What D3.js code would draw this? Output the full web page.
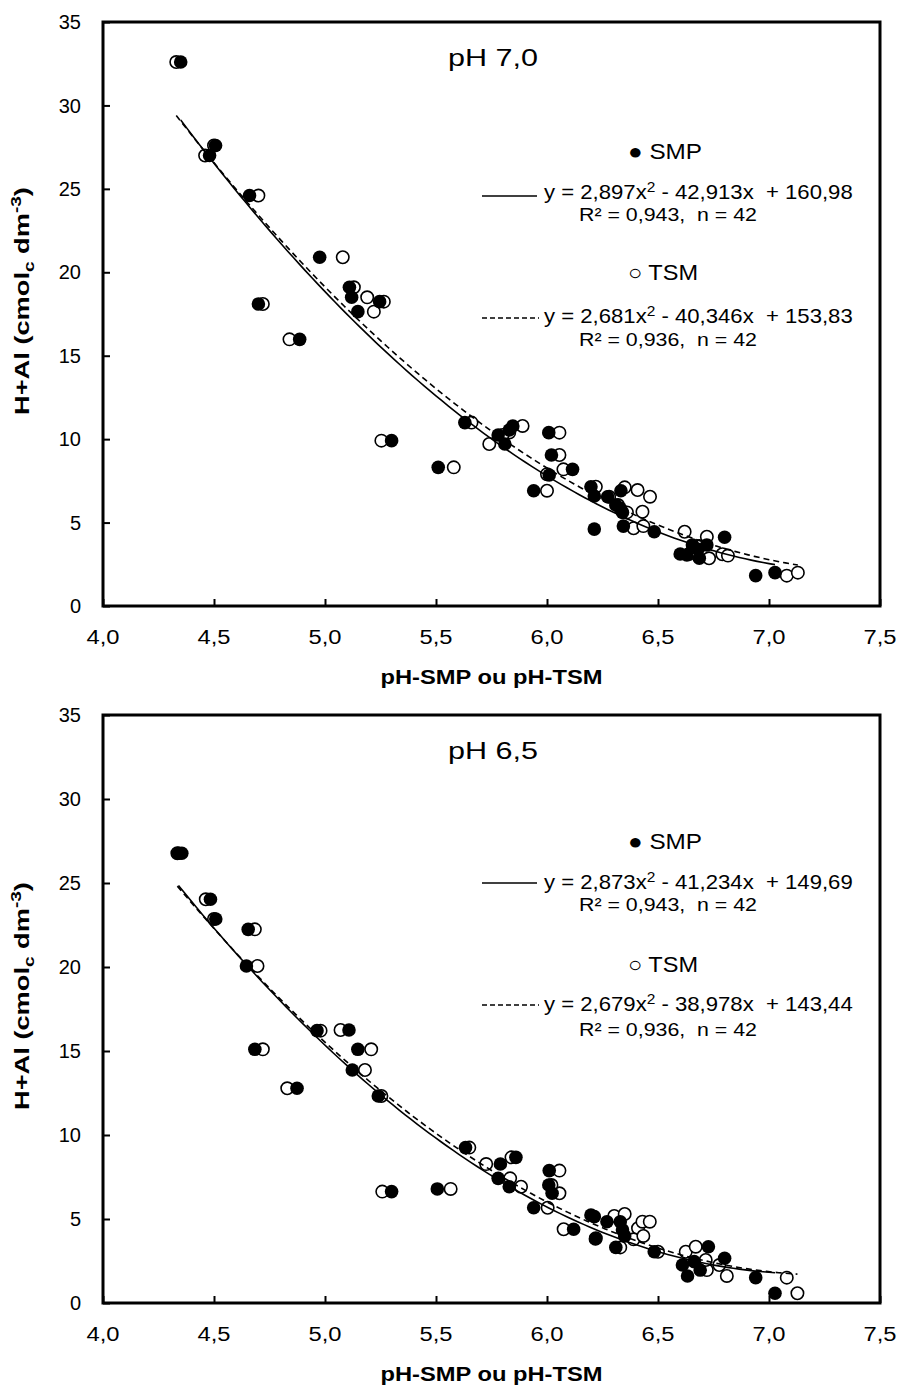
<!DOCTYPE html>
<html><head><meta charset="utf-8">
<script src="https://cdn.jsdelivr.net/npm/d3@7"></script>
<style>
body{margin:0;background:#fff}
svg{display:block}
text{font-family:"Liberation Sans",Arial,sans-serif;fill:#000}
</style>
</head><body>
<svg id="c" width="903" height="1396"></svg>
<script>
// ---------- DATA ----------
const xTicks = [4.0, 4.5, 5.0, 5.5, 6.0, 6.5, 7.0, 7.5];
const xTickLabels = ["4,0", "4,5", "5,0", "5,5", "6,0", "6,5", "7,0", "7,5"];
const yTicks = [0, 5, 10, 15, 20, 25, 30, 35];
const yTickLabels = ["0", "5", "10", "15", "20", "25", "30", "35"];
const xTitle = "pH-SMP ou pH-TSM";
const chartTitles = ["pH 7,0", "pH 6,5"];

// pH 7,0 — SMP (filled) and TSM (open): [pH, H+Al]
const smp70 = [[4.35,32.6],[4.507,27.6],[4.48,27.0],[4.66,24.6],[4.976,20.9],[4.70,18.1],[5.11,19.1],[5.12,18.5],[5.148,17.64],[5.246,18.24],[4.886,15.98],[5.63,10.99],[5.30,9.91],[5.51,8.31],[5.846,10.79],[5.83,10.55],[5.78,10.25],[5.81,9.71],[6.008,10.39],[6.02,9.05],[6.115,8.19],[6.01,7.85],[5.94,6.91],[6.198,7.15],[6.213,6.59],[6.273,6.55],[6.333,6.91],[6.31,6.05],[6.33,5.85],[6.34,5.61],[6.213,4.61],[6.344,4.79],[6.483,4.45],[6.80,4.12],[6.655,3.66],[6.72,3.66],[6.68,3.4],[6.60,3.12],[6.63,3.06],[6.686,2.86],[6.94,1.82],[7.027,2.0]];
const tsm70 = [[4.33,32.6],[4.46,27.0],[4.50,27.6],[4.70,24.6],[5.08,20.9],[4.72,18.1],[5.13,19.1],[5.19,18.5],[5.265,18.24],[5.22,17.64],[4.84,15.98],[5.66,10.99],[5.254,9.91],[5.58,8.31],[5.74,9.71],[5.83,10.4],[5.89,10.79],[6.056,10.39],[6.056,9.05],[6.074,8.19],[6.00,7.9],[6.00,6.91],[6.22,7.15],[6.35,7.11],[6.408,6.95],[6.464,6.55],[6.28,6.55],[6.32,6.05],[6.43,5.65],[6.36,5.61],[6.39,4.66],[6.434,4.79],[6.62,4.45],[6.72,4.15],[6.686,3.6],[6.64,3.12],[6.79,3.1],[6.815,3.02],[6.73,2.86],[7.08,1.82],[7.13,2.0],[5.80,10.25]];

// pH 6,5
const smp65 = [[4.34,26.77],[4.355,26.77],[4.484,24.03],[4.508,22.86],[4.654,22.24],[4.646,20.06],[4.684,15.1],[4.874,12.78],[4.964,16.21],[5.108,16.25],[5.148,15.1],[5.123,13.87],[5.24,12.32],[5.30,6.63],[5.506,6.79],[5.633,9.25],[5.79,8.27],[5.86,8.67],[5.78,7.42],[5.83,6.92],[6.01,7.88],[6.008,7.02],[6.023,6.53],[5.94,5.67],[6.12,4.39],[6.198,5.24],[6.213,5.14],[6.218,3.81],[6.27,4.84],[6.33,4.84],[6.34,4.35],[6.35,3.99],[6.31,3.31],[6.483,3.05],[6.727,3.35],[6.80,2.66],[6.61,2.26],[6.663,2.46],[6.69,1.96],[6.633,1.61],[6.94,1.51],[7.027,0.58]];
const tsm65 = [[4.335,26.77],[4.463,24.03],[4.50,22.86],[4.684,22.24],[4.696,20.06],[4.72,15.1],[4.83,12.78],[5.07,16.25],[5.208,15.1],[5.18,13.87],[5.254,12.32],[5.258,6.63],[5.566,6.79],[5.65,9.25],[5.726,8.27],[5.84,8.67],[5.834,7.42],[5.883,6.92],[6.056,7.88],[6.056,6.53],[6.003,5.67],[6.075,4.39],[6.303,5.18],[6.35,5.3],[6.41,4.45],[6.43,4.84],[6.463,4.84],[6.39,3.79],[6.434,3.99],[6.625,3.05],[6.67,3.35],[6.72,1.96],[6.715,2.56],[6.776,2.26],[6.81,1.61],[7.08,1.51],[7.128,0.58],[6.02,7.02],[6.33,3.31],[4.98,16.21],[6.50,3.05],[6.22,3.85]];

// quadratic fit coefficients [a, b, c]  (y = a x² + b x + c)
const fitSmp70 = [2.897, -42.913, 160.98];
const fitTsm70 = [2.681, -40.346, 153.83];
const fitSmp65 = [2.873, -41.234, 149.69];
const fitTsm65 = [2.679, -38.978, 143.44];

// legend texts
const eqSmp70 = ["y = 2,897x", "2", " - 42,913x  + 160,98"];
const eqTsm70 = ["y = 2,681x", "2", " - 40,346x  + 153,83"];
const eqSmp65 = ["y = 2,873x", "2", " - 41,234x  + 149,69"];
const eqTsm65 = ["y = 2,679x", "2", " - 38,978x  + 143,44"];
const r2Smp = "R² = 0,943,  n = 42";
const r2Tsm = "R² = 0,936,  n = 42";
const legSmp = "● SMP";
const legTsm = "○ TSM";

// ---------- LAYOUT (pixels, styling only) ----------
const panels = [
  {top:22, bottom:606, left:103, right:880, title:chartTitles[0], smp:smp70, tsm:tsm70, fs:fitSmp70, ft:fitTsm70, eq1:eqSmp70, eq2:eqTsm70,
   leg:{smp:137, line1:174, eq1:177, r1:199, tsm:258, line2:296, eq2:301, r2:324}},
  {top:715, bottom:1303, left:103, right:880, title:chartTitles[1], smp:smp65, tsm:tsm65, fs:fitSmp65, ft:fitTsm65, eq1:eqSmp65, eq2:eqTsm65,
   leg:{smp:134, line1:168, eq1:174, r1:196, tsm:257, line2:290, eq2:296, r2:321}}
];

const svg = d3.select("#c");

// scale a text element horizontally (in its own frame) to a target width
function stretchTo(sel, target, base) {
  const w = sel.node().getBBox().width;
  const s = w > 0 ? target / w : 1;
  sel.attr("transform", base + ` scale(${s},1)`);
}

panels.forEach(p => {
  const g = svg.append("g");
  const x = d3.scaleLinear().domain([4.0, 7.5]).range([p.left, p.right]);
  const y = d3.scaleLinear().domain([0, 35]).range([p.bottom, p.top]);

  // frame
  g.append("rect").attr("x", p.left).attr("y", p.top)
    .attr("width", p.right - p.left).attr("height", p.bottom - p.top)
    .attr("fill", "none").attr("stroke", "#000").attr("stroke-width", 3);

  // x axis (ticks inward)
  const xa = g.append("g").attr("transform", `translate(0,${p.bottom})`)
    .call(d3.axisTop(x).tickValues(xTicks).tickSize(7).tickFormat(""));
  xa.select(".domain").remove();
  xa.selectAll("line").attr("stroke", "#000").attr("stroke-width", 2);
  g.selectAll(".xl").data(xTicks).enter().append("text")
    .attr("x", d => x(d)).attr("y", p.bottom + 38)
    .attr("text-anchor", "middle").attr("font-size", 20)
    .attr("textLength", 33).attr("lengthAdjust", "spacingAndGlyphs")
    .text((d, i) => xTickLabels[i]);

  // y axis (ticks inward)
  const ya = g.append("g").attr("transform", `translate(${p.left},0)`)
    .call(d3.axisRight(y).tickValues(yTicks).tickSize(7).tickFormat(""));
  ya.select(".domain").remove();
  ya.selectAll("line").attr("stroke", "#000").attr("stroke-width", 2);
  g.selectAll(".yl").data(yTicks).enter().append("text")
    .attr("x", p.left - 22).attr("y", d => y(d)).attr("dy", "0.36em")
    .attr("text-anchor", "end").attr("font-size", 20)
    .text((d, i) => yTickLabels[i]);

  // axis titles
  g.append("text").attr("x", (p.left + p.right) / 2).attr("y", p.bottom + 78)
    .attr("text-anchor", "middle").attr("font-size", 20).attr("font-weight", "bold")
    .attr("textLength", 222).attr("lengthAdjust", "spacingAndGlyphs")
    .text(xTitle);
  const yt = g.append("text")
    .attr("text-anchor", "middle").attr("font-size", 20).attr("font-weight", "bold");
  yt.append("tspan").text("H+Al (cmol");
  yt.append("tspan").attr("font-size", 14).attr("dy", 5).text("c");
  yt.append("tspan").attr("dy", -5).text(" dm");
  yt.append("tspan").attr("font-size", 14).attr("dy", -8).text("-3");
  yt.append("tspan").attr("dy", 8).text(")");
  stretchTo(yt, 228, `translate(29,${(p.top + p.bottom) / 2 - 13}) rotate(-90)`);

  // chart title
  g.append("text").attr("x", 493).attr("y", p.top + 44)
    .attr("text-anchor", "middle").attr("font-size", 24)
    .attr("textLength", 90).attr("lengthAdjust", "spacingAndGlyphs")
    .attr("xml:space", "preserve").style("white-space", "pre").text(p.title);

  // markers: open (TSM) below, filled (SMP) on top
  g.selectAll(".tsm").data(p.tsm).enter().append("circle")
    .attr("cx", d => x(d[0])).attr("cy", d => y(d[1])).attr("r", 6.2)
    .attr("fill", "#fff").attr("stroke", "#000").attr("stroke-width", 1.6);
  g.selectAll(".smp").data(p.smp).enter().append("circle")
    .attr("cx", d => x(d[0])).attr("cy", d => y(d[1])).attr("r", 6.8)
    .attr("fill", "#000");

  // trendlines over data range
  const curve = (coef, data) => {
    const [a, b, c] = coef;
    const ext = d3.extent(data, d => d[0]);
    const xs = d3.range(0, 101).map(i => ext[0] + (ext[1] - ext[0]) * i / 100);
    return xs.map(v => [v, a * v * v + b * v + c]);
  };
  const line = d3.line().x(d => x(d[0])).y(d => y(d[1]));
  g.append("path").attr("d", line(curve(p.fs, p.smp)))
    .attr("fill", "none").attr("stroke", "#000").attr("stroke-width", 1.6);
  g.append("path").attr("d", line(curve(p.ft, p.tsm)))
    .attr("fill", "none").attr("stroke", "#000").attr("stroke-width", 1.6)
    .attr("stroke-dasharray", "6,4");

  // legend
  const L = p.leg, T = p.top;
  const lt = (xx, yy, txt, size, w) => g.append("text").attr("x", xx).attr("y", T + yy)
    .attr("font-size", size).attr("textLength", w).attr("lengthAdjust", "spacingAndGlyphs")
    .attr("xml:space", "preserve").style("white-space", "pre").text(txt);
  lt(628, L.smp, legSmp, 22, 74);
  lt(628, L.tsm, legTsm, 22, 70);
  g.append("line").attr("x1", 482).attr("x2", 537).attr("y1", T + L.line1).attr("y2", T + L.line1)
    .attr("stroke", "#000").attr("stroke-width", 1.4);
  g.append("line").attr("x1", 482).attr("x2", 539).attr("y1", T + L.line2).attr("y2", T + L.line2)
    .attr("stroke", "#000").attr("stroke-width", 1.4).attr("stroke-dasharray", "5,3");
  const eq = (yy, parts) => {
    const t = g.append("text").attr("x", 0).attr("y", 0).attr("font-size", 20)
      .attr("xml:space", "preserve").style("white-space", "pre");
    t.append("tspan").text(parts[0]);
    t.append("tspan").attr("font-size", 14).attr("dy", -7).text(parts[1]);
    t.append("tspan").attr("dy", 7).text(parts[2]);
    stretchTo(t, 309, `translate(544,${T + yy})`);
  };
  eq(L.eq1, p.eq1);
  eq(L.eq2, p.eq2);
  lt(579, L.r1, r2Smp, 19, 178);
  lt(579, L.r2, r2Tsm, 19, 178);
});
</script>
</body></html>
